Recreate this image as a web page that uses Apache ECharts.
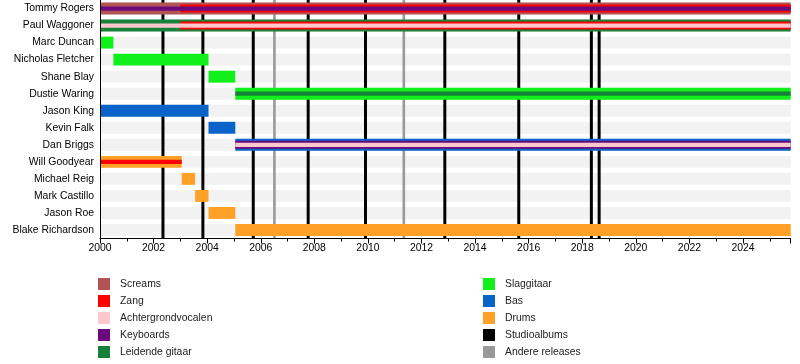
<!DOCTYPE html>
<html>
<head>
<meta charset="utf-8">
<script src="https://cdn.jsdelivr.net/npm/echarts@6/dist/echarts.min.js"></script>
<style>
html,body{margin:0;padding:0;background:#fff;}
#chart{width:800px;height:364px;}
</style>
</head>
<body>
<div id="chart"></div>
<script>
// ---------- DATA ----------
const END = 2025.78;
const members = ['Tommy Rogers','Paul Waggoner','Marc Duncan','Nicholas Fletcher','Shane Blay','Dustie Waring','Jason King','Kevin Falk','Dan Briggs','Will Goodyear','Michael Reig','Mark Castillo','Jason Roe','Blake Richardson'];
const xTicks = [2000,2002,2004,2006,2008,2010,2012,2014,2016,2018,2020,2022,2024];

const screams     = [['Tommy Rogers', 2000, END]];
const zang        = [['Tommy Rogers', 2003.0, END], ['Paul Waggoner', 2003.0, END], ['Will Goodyear', 2000, 2003.05]];
const achtergrond = [['Paul Waggoner', 2000, END], ['Dan Briggs', 2005.05, END]];
const keyboards   = [['Tommy Rogers', 2000, END], ['Dan Briggs', 2005.05, END]];
const leadGuitar  = [['Paul Waggoner', 2000, END], ['Dustie Waring', 2005.05, END]];
const slagGuitar  = [['Marc Duncan', 2000, 2000.5], ['Nicholas Fletcher', 2000.5, 2004.05], ['Shane Blay', 2004.05, 2005.05], ['Dustie Waring', 2005.05, END]];
const bas         = [['Jason King', 2000, 2004.05], ['Kevin Falk', 2004.05, 2005.05], ['Dan Briggs', 2005.05, END]];
const drums       = [['Will Goodyear', 2000, 2003.05], ['Michael Reig', 2003.05, 2003.55], ['Mark Castillo', 2003.55, 2004.05], ['Jason Roe', 2004.05, 2005.05], ['Blake Richardson', 2005.05, END]];
const studioAlbums  = [2002.35, 2003.84, 2005.72, 2007.77, 2009.91, 2012.87, 2015.63, 2018.34, 2018.63];
const otherReleases = [2006.51, 2011.34];

// ---------- STYLE ----------
const FONT = '"Liberation Sans", Arial, sans-serif';
const levelRatio = [0.70, 0.47, 0.25];
const stripeLevel = {
  'Tommy Rogers': {Screams:0, Zang:1, Keyboards:2},
  'Paul Waggoner': {'Leidende gitaar':0, Zang:1, Achtergrondvocalen:2},
  'Dan Briggs': {Bas:0, Keyboards:1, Achtergrondvocalen:2},
  'Dustie Waring': {Slaggitaar:0, 'Leidende gitaar':2},
  'Will Goodyear': {Drums:0, Zang:2}
};
const roleDefs = [
  ['Screams', screams, '#b35454'],
  ['Zang', zang, '#ff0000'],
  ['Achtergrondvocalen', achtergrond, '#ffc8cf'],
  ['Keyboards', keyboards, '#6b0a7d'],
  ['Leidende gitaar', leadGuitar, '#17813a'],
  ['Slaggitaar', slagGuitar, '#11f01a'],
  ['Bas', bas, '#0a63c9'],
  ['Drums', drums, '#ffa126']
];

function stripeRender(role, color) {
  return function (params, api) {
    const s = api.value(0), e = api.value(1), idx = api.value(2);
    const name = members[idx];
    const lvl = (stripeLevel[name] && stripeLevel[name][role] !== undefined) ? stripeLevel[name][role] : 0;
    const p0 = api.coord([s, idx]);
    const p1 = api.coord([e, idx]);
    const band = api.size([0, 1])[1];
    const h = band * levelRatio[lvl];
    return {
      type: 'rect',
      z2: 20 + lvl * 10,
      shape: { x: p0[0], y: p0[1] - h / 2, width: p1[0] - p0[0], height: h },
      style: { fill: color }
    };
  };
}

const series = [];
// background bands
series.push({
  type: 'custom', name: 'bg', silent: true,
  data: members.map((m, i) => [2000, END, i]),
  encode: { x: [0, 1], y: 2 },
  renderItem: function (params, api) {
    const idx = api.value(2);
    const p0 = api.coord([2000, idx]);
    const p1 = api.coord([END, idx]);
    const h = api.size([0, 1])[1] * levelRatio[0];
    return { type: 'rect', z2: 0, shape: { x: p0[0], y: p0[1] - h / 2, width: p1[0] - p0[0], height: h }, style: { fill: '#f2f2f2' } };
  }
});
roleDefs.forEach(([role, arr, color]) => {
  series.push({
    type: 'custom', name: role,
    itemStyle: { color: color },
    data: arr.map(([n, s, e]) => [s, e, members.indexOf(n)]),
    encode: { x: [0, 1], y: 2 },
    renderItem: stripeRender(role, color)
  });
});
function lineSeries(name, arr, color, width) {
  return {
    type: 'custom', name: name,
    itemStyle: { color: color },
    data: arr.map(v => [v, 0]),
    encode: { x: 0, y: 1 },
    renderItem: function (params, api) {
      const x = api.coord([api.value(0), 0])[0];
      const cs = params.coordSys;
      return { type: 'line', z2: 10, shape: { x1: x, y1: cs.y, x2: x, y2: cs.y + cs.height }, style: { stroke: color, lineWidth: width } };
    }
  };
}
series.push(lineSeries('Studioalbums', studioAlbums, '#000000', 3));
series.push(lineSeries('Andere releases', otherReleases, '#999999', 2.6));

const legendCommon = {
  orient: 'vertical', top: 278, padding: 0, height: 86, itemWidth: 12, itemHeight: 12, itemGap: 5,
  icon: 'rect', selectedMode: false,
  textStyle: { fontFamily: FONT, fontSize: 10.4, color: '#222', padding: [0, 0, 0, 5] }
};

const option = {
  animation: false,
  grid: { left: 100, right: 9.3, top: -1.5, height: 240 },
  legend: [
    Object.assign({}, legendCommon, { left: 98, data: ['Screams', 'Zang', 'Achtergrondvocalen', 'Keyboards', 'Leidende gitaar'] }),
    Object.assign({}, legendCommon, { left: 483, data: ['Slaggitaar', 'Bas', 'Drums', 'Studioalbums', 'Andere releases'] })
  ],
  xAxis: {
    type: 'value', min: 2000, max: END, interval: 2, z: 5,
    axisLine: { show: true, lineStyle: { color: '#000', width: 1 } },
    axisTick: { show: true, length: 5, lineStyle: { color: '#000' } },
    minorTick: { show: true, splitNumber: 2, length: 3, lineStyle: { color: '#000' } },
    splitLine: { show: false },
    axisLabel: {
      fontFamily: FONT, fontSize: 10.4, color: '#000', margin: 5,
      showMaxLabel: false,
      formatter: v => (xTicks.indexOf(Math.round(v)) >= 0 && Math.abs(v - Math.round(v)) < 1e-6) ? String(Math.round(v)) : ''
    }
  },
  yAxis: {
    type: 'category', data: members, inverse: true, z: 5,
    axisLine: { show: true, lineStyle: { color: '#000', width: 1 } },
    axisTick: { show: false },
    splitLine: { show: false },
    axisLabel: { fontFamily: FONT, fontSize: 10.4, color: '#000', margin: 6 }
  },
  series: series
};

const chart = echarts.init(document.getElementById('chart'), null, { renderer: 'canvas' });
chart.setOption(option);
</script>
</body>
</html>
